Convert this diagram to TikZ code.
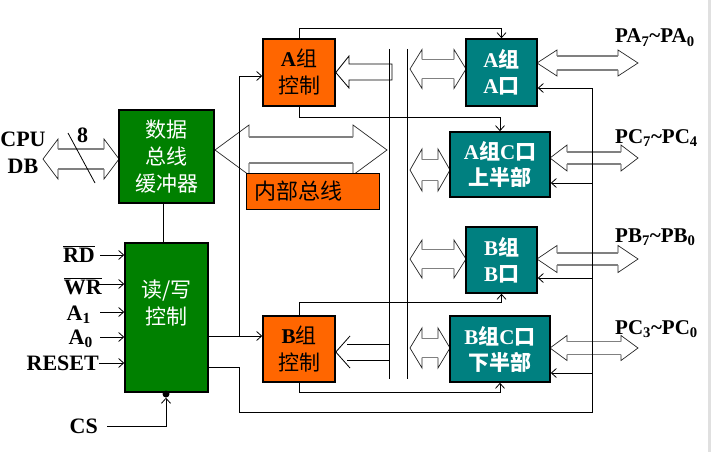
\documentclass[tikz,border=0pt]{standalone}
\usepackage{fontspec}
\setmainfont{Liberation Serif}
\newfontfamily\cjk{Noto Sans CJK SC}
\usetikzlibrary{arrows.meta, calc}
\definecolor{bufGreen}{HTML}{008000}
\definecolor{ctlOrange}{HTML}{FF6600}
\definecolor{portTeal}{HTML}{008080}
% hollow two-way bus arrow: x1, x2, y, head half, shaft half, head length
\newcommand{\busarrow}[6]{%
  \draw[headline] (#1+#6,#3-#5) -- (#1+#6,#3-#4) -- (#1,#3) -- (#1+#6,#3+#4) -- (#1+#6,#3+#5);
  \draw[headline] (#2-#6,#3-#5) -- (#2-#6,#3-#4) -- (#2,#3) -- (#2-#6,#3+#4) -- (#2-#6,#3+#5);
  \draw[shaftline] (#1+#6,#3-#5) -- (#2-#6,#3-#5) (#1+#6,#3+#5) -- (#2-#6,#3+#5);
}

\begin{document}
\begin{tikzpicture}[x=1pt, y=-1pt,
    block/.style={draw, line width=1.6pt, inner sep=0pt, align=center, font=\cjk\fontsize{21}{27}\selectfont},
    bufblock/.style={block, fill=bufGreen, text=white},
    ctlblock/.style={block, fill=ctlOrange},
    portblock/.style={block, fill=portTeal, text=white, font=\cjk\bfseries\fontsize{21}{26}\selectfont},
    pinlabel/.style={inner sep=0pt, font=\bfseries\fontsize{22}{27}\selectfont},
    portlabel/.style={inner sep=0pt, anchor=base west, font=\bfseries\fontsize{21}{26}\selectfont},
    wire/.style={line width=0.8pt},
    arrow/.style={wire, -{Straight Barb[length=5pt, width=9pt]}},
    headline/.style={line width=0.7pt, black!85},
    shaftline/.style={line width=1.1pt, black!50},
]
    \useasboundingbox (0,0) rectangle (712,452);
    \fill[black!12] (708,0) rectangle (711,452);

    % bus arrows
    \busarrow{43}{119}{159}{20}{10}{15}
    \busarrow{215}{387}{150}{25}{13}{34}
    \busarrow{410}{466}{69}{19.5}{9.5}{12}
    \busarrow{410}{450}{170}{21}{10.5}{12}
    \busarrow{410}{466}{259}{19}{9.5}{12}
    \busarrow{410}{450}{348}{20}{9.5}{12}
    \busarrow{537}{638}{63}{13}{7}{20}
    \busarrow{550}{638}{158}{13}{6}{17}
    \busarrow{537}{638}{259}{13.5}{6}{20}
    \busarrow{550}{638}{348}{12.5}{6.5}{17}
    \draw[wire] (68,133) -- (95,183);

    % blocks
    \node[bufblock, minimum width=95pt, minimum height=93pt] (buf) at (166.5,156.5) {数据\\总线\\缓冲器};
    \node[bufblock, minimum width=83pt, minimum height=149pt] (rw) at (166.5,317.5) {};
    \node[text=white, align=center, font=\cjk\fontsize{21}{27}\selectfont] (rwtext) at ([yshift=14pt]rw.center) {读/写\\控制};
    \node[ctlblock, minimum width=72pt, minimum height=67pt] (actl) at (299,72.5) {{\rmfamily\bfseries A}组\\控制};
    \node[ctlblock, minimum width=72pt, minimum height=66pt] (bctl) at (299,349) {{\rmfamily\bfseries B}组\\控制};
    \node[portblock, minimum width=71pt, minimum height=67pt] (aport) at (501.5,72.5) {{\rmfamily A}组\\{\rmfamily A}口};
    \node[portblock, minimum width=100pt, minimum height=65pt] (cup) at (500,164.5) {{\rmfamily A}组{\rmfamily C}口\\上半部};
    \node[portblock, minimum width=71pt, minimum height=66pt] (bport) at (501.5,260) {{\rmfamily B}组\\{\rmfamily B}口};
    \node[portblock, minimum width=100pt, minimum height=66pt] (clow) at (500,349) {{\rmfamily B}组{\rmfamily C}口\\下半部};
    \node[draw, line width=0.6pt, fill=ctlOrange, minimum width=133pt, minimum height=36pt,
          text width=117pt, inner xsep=8pt, align=left, font=\cjk\fontsize{22}{26}\selectfont] (ibus) at (312.5,191) {内部总线};

    % internal bus lines
    \coordinate (busLtop) at (389,49);
    \coordinate (busLbot) at (389,379);
    \coordinate (busRtop) at (407,49);
    \coordinate (busRbot) at (407,379);
    \draw[wire] (busLtop) -- (busLbot);
    \draw[wire] (busRtop) -- (busRbot);

    % group control feeds
    \draw[wire] (actl.east) -- (349,56) -- (349,64) -- (392,64) -- (392,80) -- (349,80) -- (349,88) -- cycle;
    \draw[wire] (350,336) -- ([yshift=-3pt]bctl.east) -- (350,368);
    \draw[wire] (347,344) -- (389,344) (347,360) -- (389,360);

    \draw[arrow] (actl.north) -- ++(0,-10) -| (aport.north);
    \draw[arrow] (actl.south) -- ++(0,11) -| (cup.north);
    \draw[arrow] (bctl.north) -- ++(0,-13) -| (bport.south);
    \draw[arrow] (bctl.south) -- ++(0,10) -| (clow.south);

    % read/write control outputs
    \draw[wire] ([xshift=-3.5pt]buf.south) -- ([xshift=-3.5pt]rw.north);
    \coordinate (rwCtl) at (239,336);
    \draw[arrow] (rwCtl -| rw.east) -- (rwCtl -| bctl.west);
    \draw[arrow] (rwCtl) |- ([yshift=-3.5pt]actl.west);
    \coordinate (rwPort) at (239,367);
    \coordinate (portBus) at (592,412);
    \coordinate (tapA) at (592,88);
    \coordinate (tapCU) at (592,183);
    \coordinate (tapB) at (592,278);
    \coordinate (tapCL) at (592,373);
    \draw[wire] (rwPort -| rw.east) -- (rwPort) |- (portBus) -- (tapA);
    \draw[arrow] (tapA) -- (tapA -| aport.east);
    \draw[arrow] (tapCU) -- (tapCU -| cup.east);
    \draw[arrow] (tapB) -- (tapB -| bport.east);
    \draw[arrow] (tapCL) -- (tapCL -| clow.east);

    % CPU side signals
    \node[pinlabel, align=center] (cpudb) at (23,153) {CPU\\DB};
    \node[pinlabel, anchor=base] (width) at (82.5,142) {8};
    \node[pinlabel, anchor=base east] (rd) at (95,262) {$\overline{\mbox{RD}}$};
    \node[pinlabel, anchor=base east] (wr) at (102,294) {$\overline{\mbox{WR}}$};
    \node[pinlabel, anchor=base east] (aone) at (91,320) {A\textsubscript{1}};
    \node[pinlabel, anchor=base east] (azero) at (93,344) {A\textsubscript{0}};
    \node[pinlabel, anchor=base east] (reset) at (99,370) {RESET};
    \node[pinlabel, anchor=base east] (cs) at (98,433) {CS};
    \coordinate (rdIn) at (100,255);
    \coordinate (wrIn) at (97,284);
    \coordinate (aoneIn) at (100,312);
    \coordinate (azeroIn) at (100,337);
    \coordinate (resetIn) at (99,363);
    \draw[arrow] (rdIn) -- (rdIn -| rw.west);
    \draw[arrow] (wrIn) -- (wrIn -| rw.west);
    \draw[arrow] (aoneIn) -- (aoneIn -| rw.west);
    \draw[arrow] (azeroIn) -- (azeroIn -| rw.west);
    \draw[arrow] (resetIn) -- (resetIn -| rw.west);
    \node[circle, fill, inner sep=0pt, minimum size=7pt] (csdot) at (166,394) {};
    \coordinate (csIn) at (107,426);
    \draw[arrow] (csIn) -| (csdot.south);

    % port pins
    \node[portlabel] (pa) at (615,43) {PA\textsubscript{7}\textasciitilde PA\textsubscript{0}};
    \node[portlabel] (pchi) at (615,143) {PC\textsubscript{7}\textasciitilde PC\textsubscript{4}};
    \node[portlabel] (pb) at (615,242) {PB\textsubscript{7}\textasciitilde PB\textsubscript{0}};
    \node[portlabel] (pclo) at (615,334) {PC\textsubscript{3}\textasciitilde PC\textsubscript{0}};
\end{tikzpicture}
\end{document}
